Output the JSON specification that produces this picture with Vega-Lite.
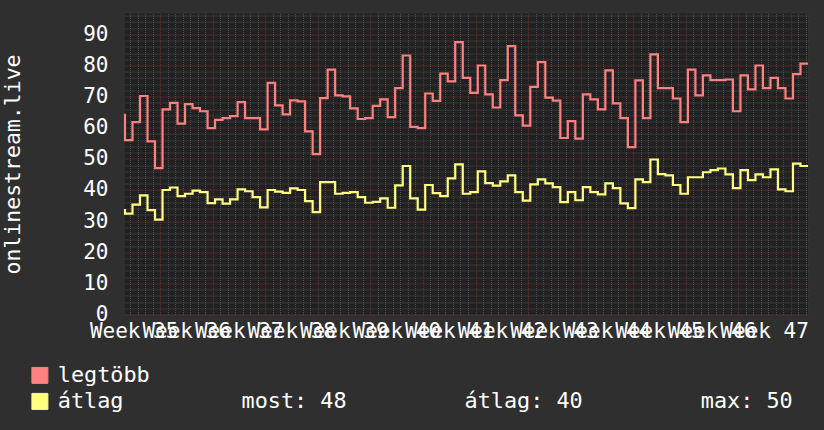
{
  "$schema": "https://vega.github.io/schema/vega-lite/v6.json",
  "width": 683,
  "height": 301,
  "autosize": {"type": "none"},
  "padding": {"left": 125, "top": 13.5, "right": 16, "bottom": 115.5},
  "background": "#2f2f2f",
  "config": {
    "view": {"fill": "#212121", "stroke": null},
    "font": "DejaVu Sans Mono"
  },
  "data": {"values": [
    {"d":0,"legtöbb":64.5,"átlag":33.9},
    {"d":1,"legtöbb":56,"átlag":32.4},
    {"d":2,"legtöbb":61.8,"átlag":35.3},
    {"d":3,"legtöbb":70.2,"átlag":38.3},
    {"d":4,"legtöbb":55.6,"átlag":33.5},
    {"d":5,"legtöbb":47,"átlag":30.5},
    {"d":6,"legtöbb":65.9,"átlag":40},
    {"d":7,"legtöbb":68,"átlag":40.8},
    {"d":8,"legtöbb":61.3,"átlag":38},
    {"d":9,"legtöbb":67.6,"átlag":38.8},
    {"d":10,"legtöbb":66.3,"átlag":39.8},
    {"d":11,"legtöbb":65.3,"átlag":39.3},
    {"d":12,"legtöbb":59.9,"átlag":35.8},
    {"d":13,"legtöbb":62.5,"átlag":37},
    {"d":14,"legtöbb":63.1,"átlag":35.6},
    {"d":15,"legtöbb":63.7,"átlag":37},
    {"d":16,"legtöbb":68.2,"átlag":40.2},
    {"d":17,"legtöbb":63.1,"átlag":39.6},
    {"d":18,"legtöbb":63.1,"átlag":37.7},
    {"d":19,"legtöbb":59.5,"átlag":34.4},
    {"d":20,"legtöbb":74.4,"átlag":40},
    {"d":21,"legtöbb":67.2,"átlag":39.5},
    {"d":22,"legtöbb":64.3,"átlag":39.1},
    {"d":23,"legtöbb":68.8,"átlag":40.5},
    {"d":24,"legtöbb":68.5,"átlag":40},
    {"d":25,"legtöbb":58.8,"átlag":36.4},
    {"d":26,"legtöbb":51.5,"átlag":32.9},
    {"d":27,"legtöbb":69.5,"átlag":42.5},
    {"d":28,"legtöbb":78.7,"átlag":42.5},
    {"d":29,"legtöbb":70.4,"átlag":38.8},
    {"d":30,"legtöbb":70.1,"átlag":39.1},
    {"d":31,"legtöbb":66.2,"átlag":39.3},
    {"d":32,"legtöbb":62.8,"átlag":37.7},
    {"d":33,"legtöbb":63.1,"átlag":35.9},
    {"d":34,"legtöbb":67,"átlag":36.2},
    {"d":35,"legtöbb":69.1,"átlag":37.3},
    {"d":36,"legtöbb":63.4,"átlag":34.3},
    {"d":37,"legtöbb":72.7,"átlag":41.5},
    {"d":38,"legtöbb":83.2,"átlag":47.7},
    {"d":39,"legtöbb":60.3,"átlag":37.3},
    {"d":40,"legtöbb":59.9,"átlag":33.7},
    {"d":41,"legtöbb":71,"átlag":41.6},
    {"d":42,"legtöbb":68.6,"átlag":39},
    {"d":43,"legtöbb":77.4,"átlag":38},
    {"d":44,"legtöbb":74.9,"átlag":43.7},
    {"d":45,"legtöbb":87.5,"átlag":48.2},
    {"d":46,"legtöbb":76,"átlag":38.8},
    {"d":47,"legtöbb":71.2,"átlag":39.3},
    {"d":48,"legtöbb":80,"átlag":46},
    {"d":49,"legtöbb":70.7,"átlag":42.2},
    {"d":50,"legtöbb":66.5,"átlag":41.4},
    {"d":51,"legtöbb":75.3,"átlag":42.8},
    {"d":52,"legtöbb":86.2,"átlag":44.7},
    {"d":53,"legtöbb":64,"átlag":39.3},
    {"d":54,"legtöbb":60.7,"átlag":36.6},
    {"d":55,"legtöbb":73.1,"átlag":41.8},
    {"d":56,"legtöbb":81.1,"átlag":43.4},
    {"d":57,"legtöbb":69.7,"átlag":42.1},
    {"d":58,"legtöbb":68.7,"átlag":40.9},
    {"d":59,"legtöbb":56.7,"átlag":36.1},
    {"d":60,"legtöbb":62.1,"átlag":39.3},
    {"d":61,"legtöbb":56.5,"átlag":36.7},
    {"d":62,"legtöbb":70.7,"átlag":40.9},
    {"d":63,"legtöbb":69.1,"átlag":39.3},
    {"d":64,"legtöbb":65.9,"átlag":38.6},
    {"d":65,"legtöbb":78.4,"átlag":42.1},
    {"d":66,"legtöbb":67.8,"átlag":40.6},
    {"d":67,"legtöbb":63.1,"átlag":35.7},
    {"d":68,"legtöbb":53.8,"átlag":34.2},
    {"d":69,"legtöbb":75.2,"átlag":43.4},
    {"d":70,"legtöbb":63.1,"átlag":42.5},
    {"d":71,"legtöbb":83.6,"átlag":49.8},
    {"d":72,"legtöbb":72.7,"átlag":45.1},
    {"d":73,"legtöbb":72.7,"átlag":44.7},
    {"d":74,"legtöbb":69.4,"átlag":41.6},
    {"d":75,"legtöbb":61.8,"átlag":38.8},
    {"d":76,"legtöbb":78.7,"átlag":44.1},
    {"d":77,"legtöbb":70.4,"átlag":44.1},
    {"d":78,"legtöbb":76.8,"átlag":45.7},
    {"d":79,"legtöbb":75.3,"átlag":46.4},
    {"d":80,"legtöbb":75.3,"átlag":46.9},
    {"d":81,"legtöbb":75.5,"átlag":45},
    {"d":82,"legtöbb":65.3,"átlag":40.6},
    {"d":83,"legtöbb":76.8,"átlag":46.4},
    {"d":84,"legtöbb":72.3,"átlag":43.2},
    {"d":85,"legtöbb":80,"átlag":45},
    {"d":86,"legtöbb":72.7,"átlag":44.1},
    {"d":87,"legtöbb":76,"átlag":46.6},
    {"d":88,"legtöbb":72.7,"átlag":40.2},
    {"d":89,"legtöbb":69.4,"átlag":39.6},
    {"d":90,"legtöbb":77.2,"átlag":48.5},
    {"d":91,"legtöbb":80.6,"átlag":47.7}
  ]},
  "transform": [{"fold": ["legtöbb", "átlag"], "as": ["s", "v"]}],
  "layer": [
    {
      "mark": {"type": "line", "opacity": 0},
      "encoding": {
        "x": {"field": "d", "type": "quantitative",
          "scale": {"domain": [0, 91], "nice": false, "zero": false},
          "axis": {"orient": "bottom", "title": null, "labels": false, "ticks": false, "domain": false,
            "grid": true, "gridColor": "#4e4e4e", "gridDash": [1, 1], "gridWidth": 1, "gridOpacity": 1,
            "values": [0.7,1.7,2.7,3.7,4.7,5.7,6.7,7.7,8.7,9.7,10.7,11.7,12.7,13.7,14.7,15.7,16.7,17.7,18.7,19.7,20.7,21.7,22.7,23.7,24.7,25.7,26.7,27.7,28.7,29.7,30.7,31.7,32.7,33.7,34.7,35.7,36.7,37.7,38.7,39.7,40.7,41.7,42.7,43.7,44.7,45.7,46.7,47.7,48.7,49.7,50.7,51.7,52.7,53.7,54.7,55.7,56.7,57.7,58.7,59.7,60.7,61.7,62.7,63.7,64.7,65.7,66.7,67.7,68.7,69.7,70.7,71.7,72.7,73.7,74.7,75.7,76.7,77.7,78.7,79.7,80.7,81.7,82.7,83.7,84.7,85.7,86.7,87.7,88.7,89.7,90.7]}},
        "y": {"field": "v", "type": "quantitative",
          "scale": {"domain": [0, 96.7], "nice": false},
          "axis": {"orient": "left", "title": null, "labels": false, "ticks": false, "domain": false,
            "grid": true, "gridColor": "#4e4e4e", "gridDash": [1, 1], "gridWidth": 1, "gridOpacity": 1,
            "values": [2,4,6,8,12,14,16,18,22,24,26,28,32,34,36,38,42,44,46,48,52,54,56,58,62,64,66,68,72,74,76,78,82,84,86,88,92,94,96]}},
        "detail": {"field": "s"}
      }
    },
    {
      "mark": {"type": "line", "opacity": 0},
      "encoding": {
        "x": {"field": "d", "type": "quantitative",
          "axis": {"orient": "bottom", "title": null, "labels": false, "ticks": false, "domain": false,
            "grid": true, "gridColor": "#6a2c2c", "gridDash": [1, 1], "gridWidth": 1, "gridOpacity": 1,
            "values": [4.7,11.7,18.7,25.7,32.7,39.7,46.7,53.7,60.7,67.7,74.7,81.7,88.7]}},
        "y": {"field": "v", "type": "quantitative", "axis": null},
        "detail": {"field": "s"}
      }
    },
    {
      "mark": {"type": "line", "interpolate": "step-before", "strokeWidth": 2.2},
      "encoding": {
        "x": {"field": "d", "type": "quantitative",
          "axis": {"orient": "bottom", "title": null, "grid": false, "ticks": false, "domain": false,
            "values": [1.15,8.15,15.15,22.15,29.15,36.15,43.15,50.15,57.15,64.15,71.15,78.15,85.15],
            "labelExpr": "'Week ' + round(35 + (datum.value - 1.15) / 7)",
            "labelOverlap": false, "labelFlush": false, "labelBound": false,
            "labelFont": "DejaVu Sans Mono", "labelFontSize": 21, "labelColor": "#ffffff", "labelPadding": 6}},
        "y": {"field": "v", "type": "quantitative",
          "axis": {"orient": "left", "ticks": false, "domain": false,
            "values": [0,10,20,30,40,50,60,70,80,90],
            "grid": true, "gridColor": "#7a2e2e", "gridDash": [1, 1], "gridWidth": 1, "gridOpacity": 1,
            "labelFont": "DejaVu Sans Mono", "labelFontSize": 21, "labelColor": "#ffffff", "labelPadding": 17,
            "title": "onlinestream.live", "titleFont": "DejaVu Sans Mono", "titleFontSize": 21.5,
            "titleFontWeight": "normal", "titleColor": "#ffffff",
            "titleX": -106, "titleY": 150.5, "titleAngle": -90, "titleAlign": "center", "titleBaseline": "alphabetic"}},
        "color": {"field": "s", "type": "nominal",
          "scale": {"domain": ["legtöbb", "átlag"], "range": ["#ff8080", "#ffff80"]},
          "legend": {"orient": "none", "legendX": -96, "legendY": 351, "title": null, "padding": 0,
            "symbolType": "square", "symbolSize": 256, "symbolOffset": 0,
            "labelFont": "DejaVu Sans Mono", "labelFontSize": 21.8, "labelColor": "#ffffff", "labelOffset": 7,
            "labelLimit": 1000, "rowPadding": 3,
            "labelExpr": "datum.label == 'átlag' ? 'átlag\u00a0\u00a0\u00a0\u00a0\u00a0\u00a0\u00a0\u00a0\u00a0most: 48\u00a0\u00a0\u00a0\u00a0\u00a0\u00a0\u00a0\u00a0\u00a0átlag: 40\u00a0\u00a0\u00a0\u00a0\u00a0\u00a0\u00a0\u00a0\u00a0max: 50' : datum.label",
            "encode": {"symbols": {"update": {
              "fill": {"scale": "color", "field": "value"},
              "stroke": {"value": "#000000"},
              "strokeWidth": {"value": 1},
              "opacity": {"value": 1}}}}}}
      }
    }
  ],
  "resolve": {"axis": {"x": "independent", "y": "independent"}}
}
